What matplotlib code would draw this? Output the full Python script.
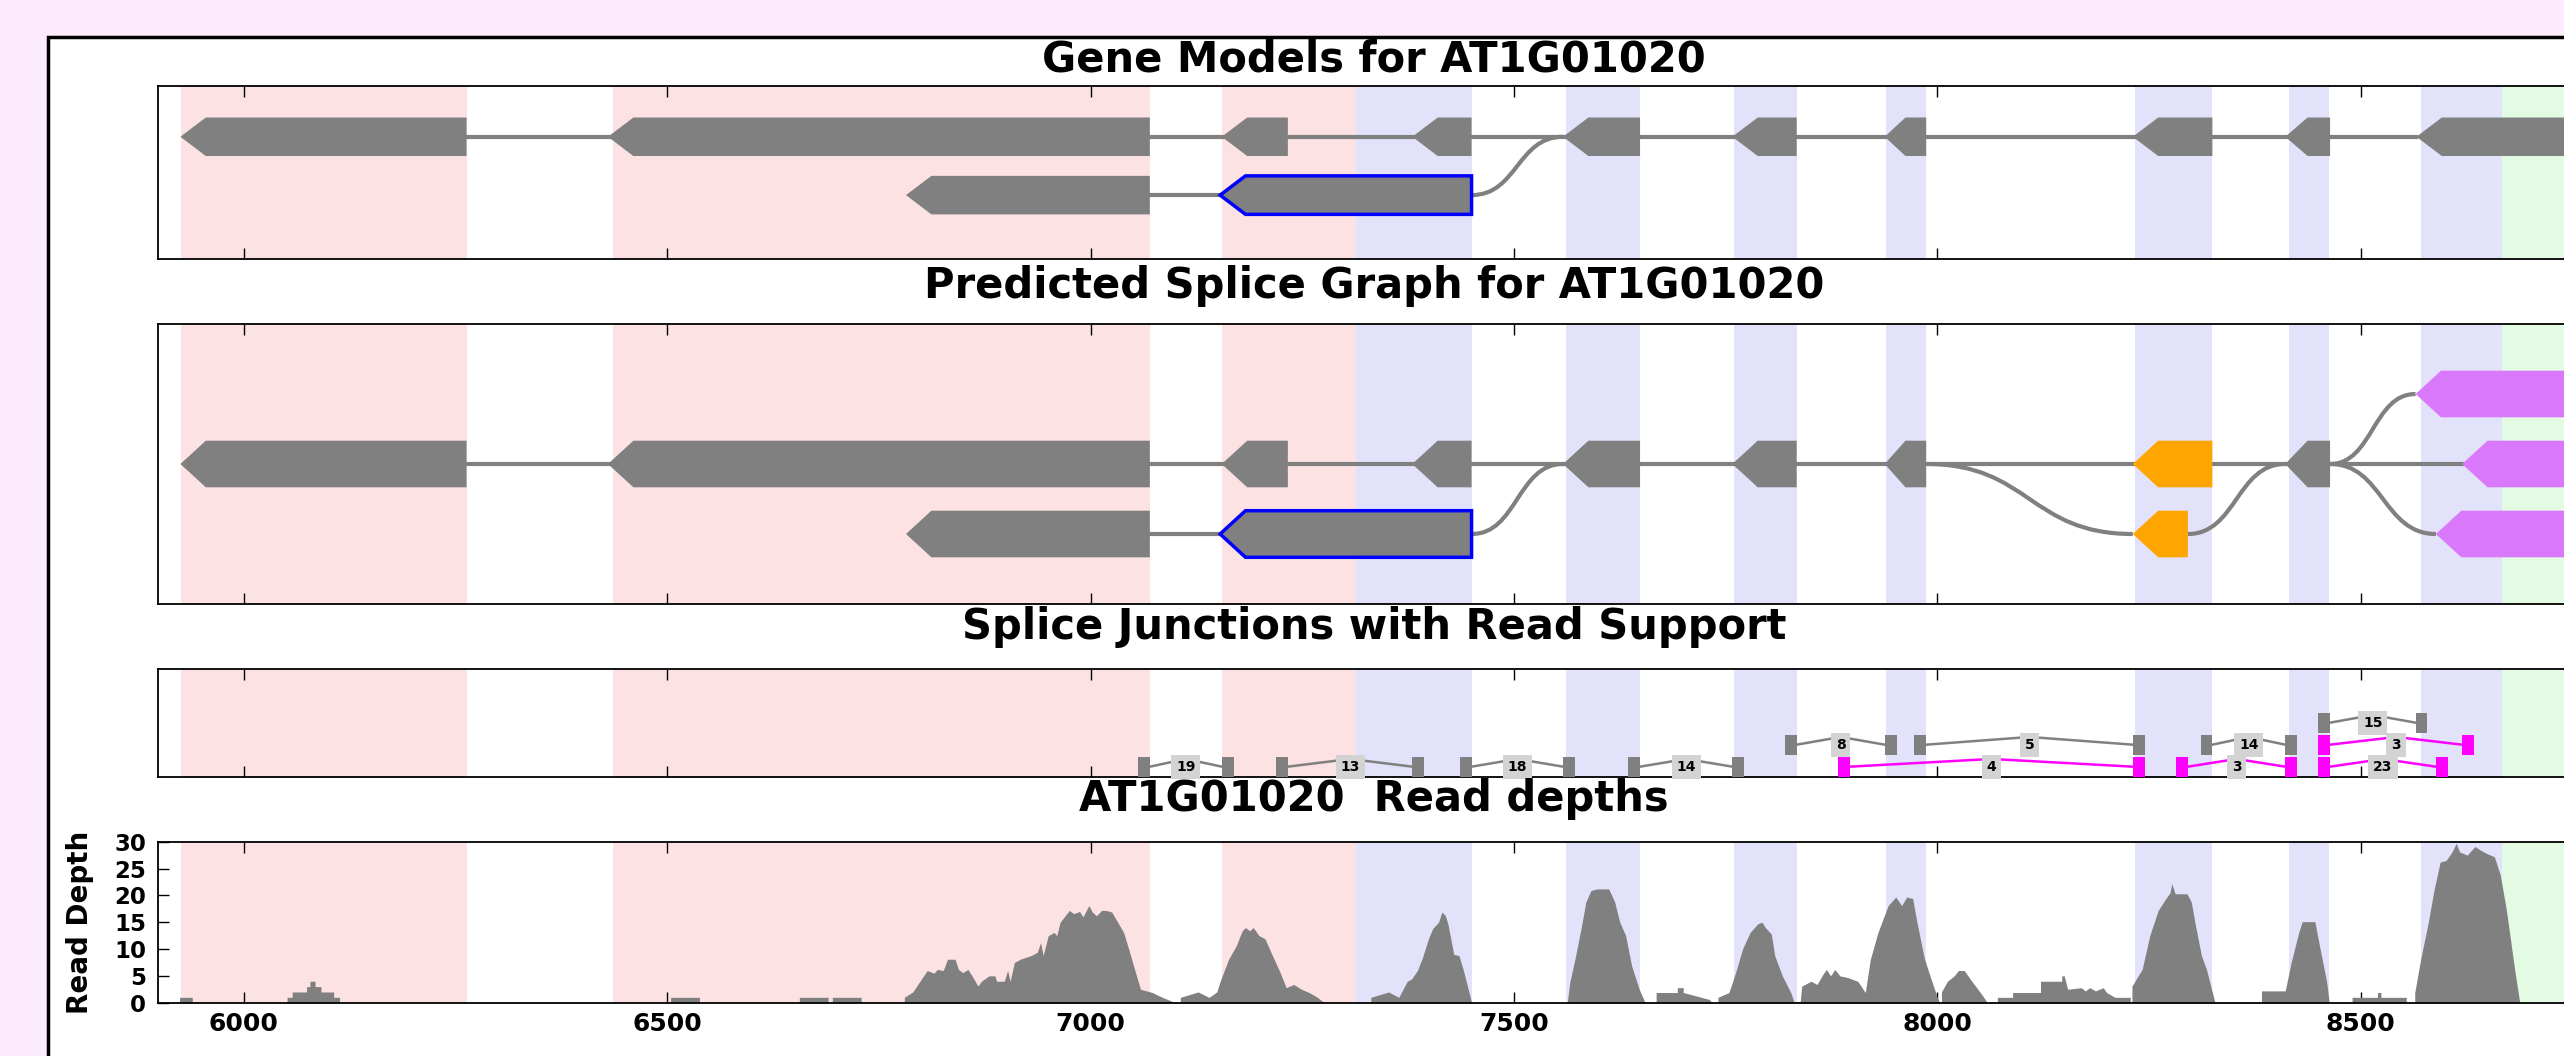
import matplotlib
matplotlib.use('Agg')
import matplotlib.pyplot as plt
from matplotlib.patches import Polygon, Rectangle, PathPatch
from matplotlib.path import Path

gene = 'AT1G01020'

# shaded exon regions shared by all panels
band_start = [5926, 6436, 7155, 7314, 7562, 7760, 7940, 8234, 8415, 8571, 8667]
band_end = [6263, 7070, 7314, 7450, 7649, 7834, 7987, 8325, 8463, 8667, 8800]
band_kind = ['utr5', 'utr5', 'utr5', 'cds', 'cds', 'cds', 'cds', 'cds', 'cds', 'cds', 'utr3']

# gene models (minus strand)
model1_start = [5925, 6430, 7155, 7380, 7558, 7758, 7938, 8231, 8411, 8566]
model1_end = [6263, 7070, 7233, 7450, 7649, 7834, 7987, 8325, 8464, 8800]
model2_start = [6782, 7153]
model2_end = [7070, 7450]
cds_start, cds_end = 7153, 7450   # highlighted exon

# predicted splice graph: rows 1 (low), 2 (main), 3 (top)
graph_start = [5925, 6430, 7155, 7380, 7558, 7758, 7938, 8231, 8411, 8620,
               6782, 7153, 8231, 8589, 8565]
graph_end = [6263, 7070, 7233, 7450, 7649, 7834, 7987, 8325, 8464, 8800,
             7070, 7450, 8296, 8800, 8800]
graph_row = [2, 2, 2, 2, 2, 2, 2, 2, 2, 2, 1, 1, 1, 1, 3]
graph_col = ['gray', 'gray', 'gray', 'gray', 'gray', 'gray', 'gray', 'orange', 'gray', 'alt',
             'gray', 'gray', 'orange', 'alt', 'alt']
graph_curves = [(7450, 1, 7558, 2), (7987, 2, 8231, 1), (8296, 1, 8411, 2),
                (8464, 2, 8565, 3), (8464, 2, 8589, 1)]

# splice junctions
junc_left = [7070, 7233, 7450, 7649, 7834, 7987, 8325, 8464, 7897, 8296, 8464, 8464]
junc_right = [7155, 7380, 7558, 7758, 7938, 8231, 8411, 8565, 8231, 8411, 8589, 8620]
junc_count = [19, 13, 18, 14, 8, 5, 14, 15, 4, 3, 23, 3]
junc_level = [0, 0, 0, 0, 1, 1, 1, 2, 0, 0, 0, 1]
junc_novel = [False] * 8 + [True] * 4

# read depth profile
depth_pos = [5899, 5924, 5924, 5939, 5939,
             6051, 6051, 6057, 6057, 6074, 6074, 6078, 6078, 6084, 6084, 6091, 6091, 6106, 6106, 6113, 6113,
             6504, 6504, 6538, 6538, 6656, 6656, 6690, 6690, 6695, 6695, 6729, 6729,
             6780, 6780, 6790, 6807, 6815, 6819, 6826, 6831, 6840, 6844, 6849, 6855, 6860, 6867, 6871, 6880,
             6887, 6889, 6898, 6902, 6905, 6910, 6917, 6930, 6937, 6941, 6944, 6950, 6957, 6960, 6964, 6969,
             6975, 6980, 6987, 6991, 6998, 7002, 7007, 7013, 7018, 7025, 7032, 7039, 7045, 7052, 7059, 7066,
             7073, 7082, 7088, 7100,
             7106, 7106, 7127, 7140, 7149, 7154, 7163, 7172, 7179, 7183, 7188, 7192, 7199, 7206, 7213, 7224,
             7231, 7240, 7249, 7258, 7267, 7276,
             7331, 7331, 7352, 7364, 7374, 7379, 7386, 7392, 7399, 7404, 7411, 7415, 7419, 7422, 7429, 7435,
             7440, 7444, 7450,
             7563, 7566, 7573, 7580, 7585, 7591, 7598, 7612, 7619, 7625, 7632, 7639, 7648, 7655,
             7668, 7668, 7693, 7693, 7700, 7700, 7731, 7734,
             7741, 7741, 7754, 7763, 7770, 7779, 7788, 7793, 7797, 7804, 7808, 7817, 7827, 7831,
             7838, 7840, 7851, 7858, 7865, 7869, 7874, 7879, 7885, 7894, 7906, 7910, 7915, 7921, 7930, 7942,
             7951, 7958, 7964, 7971, 7976, 7985, 7994, 8000, 8003,
             8005, 8005, 8012, 8020, 8025, 8032, 8039, 8048, 8055, 8059,
             8071, 8071, 8089, 8089, 8122, 8122, 8147, 8147, 8150, 8154, 8170, 8175, 8180, 8187, 8196, 8200,
             8210, 8228, 8228,
             8230, 8230, 8242, 8251, 8261, 8270, 8275, 8277, 8281, 8286, 8295, 8300, 8305, 8312, 8318, 8325,
             8328,
             8383, 8383, 8411, 8418, 8427, 8431, 8446, 8453, 8460, 8463,
             8490, 8490, 8520, 8520, 8524, 8524, 8554, 8554,
             8564, 8564, 8571, 8580, 8587, 8594, 8601, 8608, 8613, 8617, 8626, 8635, 8642, 8649, 8658, 8665,
             8672, 8682, 8688, 8800]
depth_val = [0, 0, 1, 1, 0,
             0, 1, 1, 2, 2, 3, 3, 4, 4, 3, 3, 2, 2, 1, 1, 0,
             0, 1, 1, 0, 0, 1, 1, 0, 0, 1, 1, 0,
             0, 1, 2, 6, 5.5, 6.2, 6, 8.1, 8.1, 6.2, 5.6, 6.2, 5, 3.1, 4, 5,
             5, 4, 4, 6, 4, 7.5, 8.1, 8.8, 9.4, 11.2, 8.8, 12.5, 13.1, 12.5, 15, 16,
             17.2, 16.6, 17, 16, 18.1, 16.9, 16.2, 17.2, 17.2, 16.9, 15, 13.1, 10, 6.2, 2.5, 2.2,
             1.9, 1.2, 0.8, 0,
             0, 1, 2, 1, 2, 4.4, 8.1, 10.6, 13.4, 14, 13.4, 14, 12.5, 11.9, 9.4, 5.6,
             2.8, 3.4, 2.5, 1.9, 1.1, 0,
             0, 1, 2, 1, 4, 4.4, 6, 8.4, 11.9, 13.8, 15, 16.9, 16.2, 14.7, 9, 8.8,
             6.2, 3.8, 0,
             0, 3.8, 8.8, 14.4, 18.8, 20.9, 21.2, 21.2, 18.8, 15, 12.5, 6.9, 2.5, 0,
             0, 1.9, 1.9, 2.8, 2.8, 1.9, 0.6, 0,
             0, 1, 1.9, 6.2, 10, 13.1, 14.7, 15, 14, 12.8, 8.8, 5, 1.9, 0,
             0, 3.1, 4, 3.4, 5.3, 6.2, 5, 6.2, 5, 4.7, 4, 3.1, 1.9, 8.1, 13.1, 18.1,
             19.7, 18.1, 19.7, 19.4, 15, 8.1, 3.8, 1, 0,
             0, 2, 4, 5, 6, 6, 4.4, 2.5, 1, 0,
             0, 1, 1, 1.9, 1.9, 4, 4, 5, 5, 2.5, 2.8, 2.2, 2.8, 2.2, 2.8, 1.9,
             1, 1, 0,
             0, 3.1, 6.2, 12.5, 17.2, 19.4, 20.5, 22.2, 20.3, 20.3, 20.3, 18.8, 14.4, 8.8, 6.2, 1.9,
             0,
             0, 2.2, 2.2, 7.5, 13.1, 15.1, 15.1, 9.4, 3.8, 0,
             0, 1, 1, 1.9, 1.9, 1, 1, 0,
             0, 1.9, 8.1, 15, 21.2, 26.2, 26.5, 28.1, 29.7, 28.1, 27.5, 29.1, 28.4, 27.8, 27.2, 23.8,
             17.5, 6.2, 0, 0]

band_colors = {'utr5': '#fde2e3', 'cds': '#e2e2fa', 'utr3': '#e2fbe2'}
fill_colors = {'gray': '#808080', 'orange': '#ffa500', 'alt': '#da78fc'}
GRAY = '#808080'
W, H = 2564, 1056
X0, X1 = 5899, 8771


def minus_exon(ax, start, end, y, h, color, edge=None):
    a = min(30, 0.5 * (end - start))
    pts = [(start, y), (start + a, y + h), (end, y + h), (end, y - h), (start + a, y - h)]
    if edge:
        p = Polygon(pts, closed=True, facecolor=color, edgecolor=edge, lw=2.5, zorder=3)
    else:
        p = Polygon(pts, closed=True, facecolor=color, edgecolor='none', zorder=3)
    ax.add_patch(p)


def s_curve(ax, x0, y0, x1, y1):
    dx = (x1 - x0) / 2.0
    verts = [(x0, y0), (x0 + dx, y0), (x1 - dx, y1), (x1, y1)]
    path = Path(verts, [Path.MOVETO, Path.CURVE4, Path.CURVE4, Path.CURVE4])
    ax.add_patch(PathPatch(path, fill=False, edgecolor=GRAY, lw=3, zorder=2))


def setup(ax):
    for s, e, k in zip(band_start, band_end, band_kind):
        ax.axvspan(s, e, color=band_colors[k], lw=0, zorder=0)
    ax.set_xlim(X0, X1)
    ax.set_xticks([6000, 6500, 7000, 7500, 8000, 8500])
    ax.tick_params(axis='x', direction='in', top=True, bottom=True, length=8, width=1,
                   labelbottom=False)
    for sp in ax.spines.values():
        sp.set_linewidth(1.3)


def px_axes(top, bottom, left=158.4, right=2590):
    return fig.add_axes([left / W, 1 - bottom / H, (right - left) / W, (bottom - top) / H])


fig = plt.figure(figsize=(W / 100.0, H / 100.0), dpi=100, facecolor='#fcebfc')
fig.patches.append(Rectangle((47.6 / W, -0.1), 1.2, 1.1 - 36.7 / H, transform=fig.transFigure,
                             facecolor='white', edgecolor='black', lw=2.5, zorder=-1))

# --- gene models
ax1 = px_axes(86, 259.3)
setup(ax1)
ax1.set_yticks([])
ax1.set_ylim(-0.1, 2.87)
ax1.plot([model1_end[0], model1_start[-1]], [2, 2], color=GRAY, lw=3, zorder=2)
ax1.plot([model2_end[0], model2_start[1]], [1, 1], color=GRAY, lw=3, zorder=2)
s_curve(ax1, model2_end[-1], 1, model1_start[4], 2)
for s, e in zip(model1_start, model1_end):
    minus_exon(ax1, s, e, 2, 0.33, GRAY)
for s, e in zip(model2_start, model2_end):
    minus_exon(ax1, s, e, 1, 0.33, GRAY, edge='#0000ff' if s == cds_start else None)

# --- predicted splice graph
ax2 = px_axes(324, 604)
setup(ax2)
ax2.set_yticks([])
ax2.set_ylim(0, 4)
ax2.plot([graph_end[0], graph_start[9]], [2, 2], color=GRAY, lw=3, zorder=2)
ax2.plot([graph_end[10], graph_start[11]], [1, 1], color=GRAY, lw=3, zorder=2)
for x0, r0, x1, r1 in graph_curves:
    s_curve(ax2, x0, r0, x1, r1)
for s, e, r, c in zip(graph_start, graph_end, graph_row, graph_col):
    edge = '#0000ff' if (s == cds_start and r == 1) else None
    minus_exon(ax2, s, e, r, 0.333, fill_colors[c], edge=edge)

# --- splice junctions
ax3 = px_axes(669, 777)
setup(ax3)
ax3.set_yticks([])
ax3.set_ylim(-0.47, 4.44)
bw, bh = 14, 0.45
for l, r, n, lev, novel in zip(junc_left, junc_right, junc_count, junc_level, junc_novel):
    c = '#ff00ff' if novel else GRAY
    mid = (l + r) / 2.0
    ax3.plot([l, mid, r], [lev, lev + 0.35, lev], color=c, lw=1.8, zorder=2)
    ax3.add_patch(Rectangle((l - bw, lev - bh), bw, 2 * bh, facecolor=c, edgecolor='none', zorder=3))
    ax3.add_patch(Rectangle((r, lev - bh), bw, 2 * bh, facecolor=c, edgecolor='none', zorder=3))
    ax3.text(mid, lev, str(n), fontsize=10, fontweight='bold', ha='center', va='center', zorder=4,
             bbox=dict(boxstyle='square,pad=0.35', facecolor='#d3d3d3', edgecolor='none'))

# --- read depths
ax4 = px_axes(841.7, 1002.7)
setup(ax4)
ax4.fill_between(depth_pos, 0, depth_val, color=GRAY, lw=0, zorder=2)
ax4.set_ylim(0, 30)
ax4.set_yticks(range(0, 31, 5))
ax4.tick_params(axis='x', labelbottom=True, labelsize=18, pad=7)
ax4.tick_params(axis='y', direction='in', left=True, right=True, length=8, width=1, labelsize=16.5, pad=9)
for lab in ax4.get_xticklabels() + ax4.get_yticklabels():
    lab.set_fontweight('bold')
ax4.set_ylabel('Read Depth', fontsize=20, fontweight='bold')
ax4.yaxis.set_label_coords((94 - 158.4) / (2590 - 158.4), 0.5)

titles = ['Gene Models for ' + gene, 'Predicted Splice Graph for ' + gene,
          'Splice Junctions with Read Support', gene + '  Read depths']
baselines = [71.7, 298, 639, 811]
for t, b in zip(titles, baselines):
    fig.text(1374.0 / W, 1 - b / H, t, fontsize=30, fontweight='bold', ha='center', va='baseline')

fig.savefig('out.png', dpi=100, facecolor=fig.get_facecolor())
